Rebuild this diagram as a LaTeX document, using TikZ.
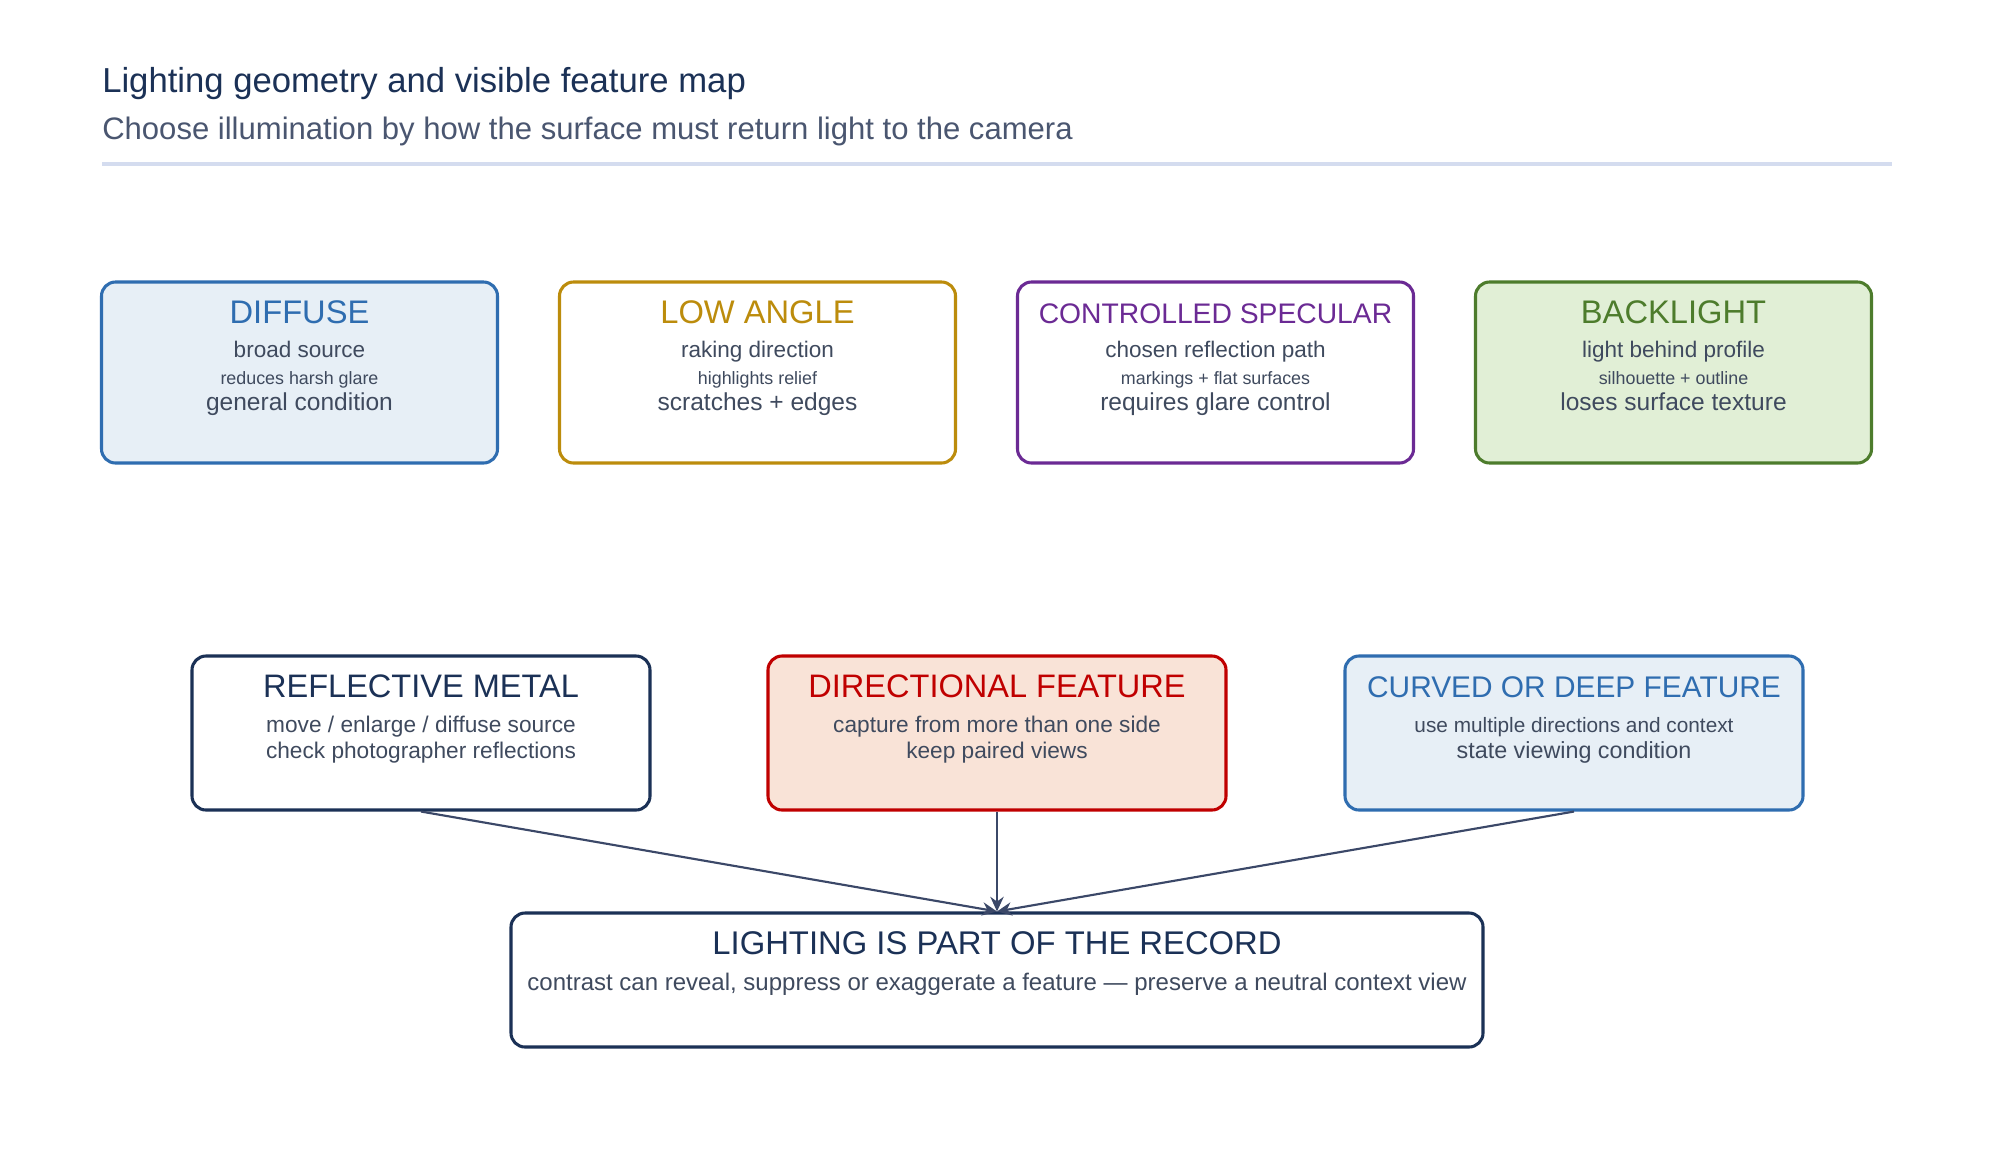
\documentclass[tikz,border=0pt]{standalone}
\usepackage{fontspec}
\setmainfont{Liberation Sans}
\usetikzlibrary{arrows.meta}

\definecolor{ink}{HTML}{1B3156}
\definecolor{subink}{HTML}{4A5670}
\definecolor{bodyink}{HTML}{3F4A5E}
\definecolor{rulec}{HTML}{D4DCEF}
\definecolor{diffblue}{HTML}{2F6DB0}
\definecolor{diffbg}{HTML}{E7EFF6}
\definecolor{lowgold}{HTML}{BC8C0C}
\definecolor{specpurple}{HTML}{6B2A94}
\definecolor{backgreen}{HTML}{4D7C2C}
\definecolor{backbg}{HTML}{E1EFD6}
\definecolor{dirred}{HTML}{C00000}
\definecolor{dirbg}{HTML}{F9E3D7}
\definecolor{arrowc}{HTML}{3B4868}

\tikzset{
  card/.style={draw=#1, line width=2.3pt, rounded corners=10.5pt, inner sep=0pt},
  head/.style={anchor=base, inner sep=0pt},
  note/.style={anchor=base, inner sep=0pt, text=bodyink},
  link/.style={draw=arrowc, line width=1.6pt, -{Stealth[length=11pt,width=10pt]}},
}

\begin{document}
\begin{tikzpicture}[x=0.75pt,y=-0.75pt]
	\fill[white] (0,0) rectangle (1994,1161);
	\useasboundingbox (0,0) rectangle (1994,1161);
	% heading
	\node[anchor=base west, inner sep=0pt, text=ink, font=\fontsize{26pt}{30pt}\selectfont] (title) at (102,92) {Lighting geometry and visible feature map};
	\node[anchor=base west, inner sep=0pt, text=subink, font=\fontsize{23.3pt}{27pt}\selectfont] (subtitle) at (102,139) {Choose illumination by how the surface must return light to the camera};
	\draw[rulec, line width=2.4pt] (102,164) -- (1892,164);
	% lighting modes
	\foreach \nm/\cx/\col/\bg/\hsz/\hd/\la/\lb/\lc in {
		diffuse/299.5/diffblue/diffbg/24.5/DIFFUSE/broad source/reduces harsh glare/general condition,
		lowangle/757.5/lowgold/white/24.5/LOW ANGLE/raking direction/highlights relief/scratches + edges,
		specular/1215.5/specpurple/white/21.2/CONTROLLED SPECULAR/chosen reflection path/markings + flat surfaces/requires glare control,
		backlight/1673.5/backgreen/backbg/24.5/BACKLIGHT/light behind profile/silhouette + outline/loses surface texture}
	{
		\node[card=\col, fill=\bg, minimum width=297pt, minimum height=135.75pt] (\nm) at (\cx,372.5) {};
		\node[head, text=\col, font=\fontsize{\hsz pt}{\hsz pt}\selectfont] (\nm-h) at (\cx,323) {\hd};
		\node[note, font=\fontsize{16.9pt}{20pt}\selectfont] (\nm-a) at (\cx,357) {\la};
		\node[note, font=\fontsize{13.4pt}{16pt}\selectfont] (\nm-b) at (\cx,384) {\lb};
		\node[note, font=\fontsize{18.4pt}{22pt}\selectfont] (\nm-c) at (\cx,410) {\lc};
	}
	% cases
	\node[card=ink, fill=white, minimum width=343.5pt, minimum height=115.5pt] (metal) at (421,733) {};
	\node[head, text=ink, font=\fontsize{24.4pt}{28pt}\selectfont] (metal-h) at (421,697) {REFLECTIVE METAL};
	\node[note, font=\fontsize{17pt}{20pt}\selectfont] (metal-a) at (421,732) {move / enlarge / diffuse source};
	\node[note, font=\fontsize{17pt}{20pt}\selectfont] (metal-b) at (421,758) {check photographer reflections};

	\node[card=dirred, fill=dirbg, minimum width=343.5pt, minimum height=115.5pt] (directional) at (997,733) {};
	\node[head, text=dirred, font=\fontsize{24.4pt}{28pt}\selectfont] (directional-h) at (997,697) {DIRECTIONAL FEATURE};
	\node[note, font=\fontsize{17pt}{20pt}\selectfont] (directional-a) at (997,732) {capture from more than one side};
	\node[note, font=\fontsize{17pt}{20pt}\selectfont] (directional-b) at (997,758) {keep paired views};

	\node[card=diffblue, fill=diffbg, minimum width=343.5pt, minimum height=115.5pt] (curved) at (1574,733) {};
	\node[head, text=diffblue, font=\fontsize{22.4pt}{26pt}\selectfont] (curved-h) at (1574,697) {CURVED OR DEEP FEATURE};
	\node[note, font=\fontsize{15.6pt}{18pt}\selectfont] (curved-a) at (1574,732) {use multiple directions and context};
	\node[note, font=\fontsize{17.5pt}{20pt}\selectfont] (curved-b) at (1574,758) {state viewing condition};
	% outcome
	\node[card=ink, fill=white, minimum width=729pt, minimum height=100.5pt] (record) at (997,980) {};
	\node[head, text=ink, font=\fontsize{24.6pt}{28pt}\selectfont] (record-h) at (997,954) {LIGHTING IS PART OF THE RECORD};
	\node[note, font=\fontsize{18pt}{21pt}\selectfont] (record-a) at (997,990) {contrast can reveal, suppress or exaggerate a feature — preserve a neutral context view};

	\draw[link] (metal.south) -- (record.north);
	\draw[link] (directional.south) -- (record.north);
	\draw[link] (curved.south) -- (record.north);
\end{tikzpicture}
\end{document}
